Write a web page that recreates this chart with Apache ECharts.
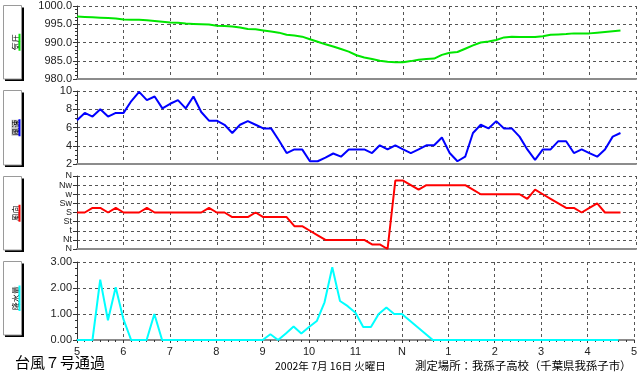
<!DOCTYPE html>
<html>
<head>
<meta charset="utf-8">
<script src="https://cdn.jsdelivr.net/npm/echarts@6/dist/echarts.min.js"></script>
<style>
  html, body { margin: 0; padding: 0; background: #fff; }
  #chart { width: 640px; height: 376px; }
</style>
</head>
<body>
<div id="chart"></div>
<script>
// 10-minute readings from 5:00 to 16:40
const startHour = 5;
const stepHour = 1 / 6;

const pressure = [
  997.1, 997.0, 996.9, 996.8, 996.7, 996.6, 996.3, 996.2, 996.2, 996.1,
  995.9, 995.7, 995.5, 995.4, 995.2, 995.1, 995.0, 994.9, 994.6, 994.5,
  994.4, 994.1, 993.7, 993.6, 993.3, 993.0, 992.7, 992.1, 991.9, 991.6,
  990.9, 990.2, 989.5, 988.9, 988.2, 987.5, 986.5, 985.9, 985.5, 985.0,
  984.7, 984.6, 984.6, 984.9, 985.3, 985.5, 985.6, 986.6, 987.2, 987.4,
  988.3, 989.2, 990.0, 990.3, 990.7, 991.4, 991.6, 991.5, 991.5, 991.5,
  991.7, 992.1, 992.2, 992.3, 992.5, 992.5, 992.5, 992.7, 992.9, 993.1,
  993.3
];

const windSpeed = [
  6.8, 7.6, 7.2, 8.0, 7.2, 7.6, 7.6, 8.9, 9.9, 9.0,
  9.4, 8.1, 8.6, 9.0, 8.1, 9.4, 7.7, 6.75, 6.75, 6.3,
  5.4, 6.3, 6.7, 6.3, 5.9, 5.9, 4.6, 3.2, 3.6, 3.6,
  2.3, 2.3, 2.7, 3.15, 2.8, 3.6, 3.6, 3.6, 3.2, 4.05,
  3.6, 4.05, 3.6, 3.2, 3.6, 4.05, 4.05, 4.9, 3.2, 2.3,
  2.8, 5.4, 6.3, 5.9, 6.7, 5.9, 5.9, 5.0, 3.6, 2.45,
  3.6, 3.6, 4.5, 4.5, 3.2, 3.6, 3.2, 2.8, 3.6, 5.0,
  5.4
];

// 0 = N (bottom) ... 8 = N (top), half steps = 16-point compass
const windDir = [
  4, 4, 4.5, 4.5, 4, 4.5, 4, 4, 4, 4.5,
  4, 4, 4, 4, 4, 4, 4, 4.5, 4, 4,
  3.5, 3.5, 3.5, 4, 3.5, 3.5, 3.5, 3.5, 2.5, 2.5,
  2, 1.5, 1, 1, 1, 1, 1, 1, 0.5, 0.5,
  0, 7.5, 7.5, 7, 6.5, 7, 7, 7, 7, 7,
  7, 6.5, 6, 6, 6, 6, 6, 6, 5.5, 6.5,
  6, 5.5, 5, 4.5, 4.5, 4, 4.5, 5, 4, 4,
  4
];

const rain = [
  0, 0, 0, 2.32, 0.76, 2.03, 0.8, 0, 0, 0,
  1.0, 0, 0, 0, 0, 0, 0, 0, 0, 0,
  0, 0, 0, 0, 0, 0.22, 0, 0.25, 0.52, 0.25,
  0.5, 0.73, 1.45, 2.8, 1.5, 1.3, 1.05, 0.5, 0.5, 1.0,
  1.25, 1.0, 1.0, 0.75, 0.5, 0.25, 0, 0, 0, 0,
  0, 0, 0, 0, 0, 0, 0, 0, 0, 0,
  0, 0, 0, 0, 0, 0, 0, 0, 0, 0,
  0
];

const dirLabels = ['N', 'Nt', 't', 'St', 'S', 'Sw', 'w', 'Nw', 'N'];
const panelTitles = ['気圧', '風速', '風向', '降水量'];
const panelColors = ['#00e600', '#0000ff', '#ff0000', '#00ffff'];

const toPoints = arr => arr.map((v, i) => [startHour + i * stepHour, v]);
const hourLabel = v => (v === 12 ? 'N' : String(v > 12 ? v - 12 : v));

const FONT = 'Liberation Sans';
const grids = [
  { left: 77, right: 4, top: 6, height: 73 },
  { left: 77, right: 4, top: 91, height: 73 },
  { left: 77, right: 4, top: 176, height: 73 },
  { left: 77, right: 4, top: 262, height: 78 },
];

const dashed = { show: true, lineStyle: { color: '#555', type: [3, 3], width: 1 } };
const labelCommon = {
  color: '#222',
  fontSize: 11,
  fontFamily: FONT,
  showMinLabel: true,
  showMaxLabel: true,
  hideOverlap: false,
};

const xAxes = grids.map((g, i) => ({
  gridIndex: i,
  type: 'value',
  min: 5,
  max: 17,
  interval: 1,
  axisLine: { show: true, lineStyle: { color: '#8c8c8c', width: 2 } },
  axisTick: { show: i === 3, length: 3, lineStyle: { color: '#333' } },
  minorTick: { show: i === 3, splitNumber: 6, length: 2, lineStyle: { color: '#333' } },
  axisLabel: { ...labelCommon, show: i === 3, margin: 6, formatter: hourLabel },
  splitLine: dashed,
}));

const yBase = {
  type: 'value',
  axisLine: { show: true, lineStyle: { color: '#333', width: 1 } },
  axisTick: { show: true, length: 4, lineStyle: { color: '#333' } },
  axisLabel: { ...labelCommon, margin: 5 },
  splitLine: dashed,
};

const yAxes = [
  { ...yBase, gridIndex: 0, min: 980, max: 1000, interval: 5,
    minorTick: { show: true, splitNumber: 5, length: 2, lineStyle: { color: '#333' } },
    axisLabel: { ...yBase.axisLabel, formatter: v => v.toFixed(1) } },
  { ...yBase, gridIndex: 1, min: 2, max: 10, interval: 2,
    minorTick: { show: true, splitNumber: 4, length: 2, lineStyle: { color: '#333' } } },
  { ...yBase, gridIndex: 2, min: 0, max: 8, interval: 1,
    axisLabel: { ...yBase.axisLabel, fontSize: 9, lineHeight: 8, formatter: v => dirLabels[v] } },
  { ...yBase, gridIndex: 3, min: 0, max: 3, interval: 1,
    minorTick: { show: true, splitNumber: 4, length: 2, lineStyle: { color: '#333' } },
    axisLabel: { ...yBase.axisLabel, formatter: v => v.toFixed(2) } },
];

const seriesData = [pressure, windSpeed, windDir, rain];
const series = seriesData.map((arr, i) => ({
  type: 'line',
  xAxisIndex: i,
  yAxisIndex: i,
  data: toPoints(arr),
  showSymbol: false,
  lineStyle: { color: panelColors[i], width: 2 },
  z: 3,
}));

// side label boxes (rotated text with coloured underline)
const boxes = [
  { top: 5.5, bottom: 79 },
  { top: 90.5, bottom: 165 },
  { top: 176.5, bottom: 250 },
  { top: 261.5, bottom: 335 },
];
const graphic = [];
boxes.forEach((b, i) => {
  const h = b.bottom - b.top;
  const cy = (b.top + b.bottom) / 2;
  const textLen = panelTitles[i].length * 8.5;
  graphic.push({
    type: 'rect', shape: { x: 5, y: b.top + 2, width: 19, height: h },
    style: { fill: '#000' }, silent: true,
  });
  graphic.push({
    type: 'rect', shape: { x: 3.5, y: b.top, width: 18, height: h },
    style: { fill: '#fff', stroke: '#9a9a9a', lineWidth: 1 }, silent: true,
  });
  graphic.push({
    type: 'text', x: 15.5, y: cy, rotation: Math.PI / 2,
    style: {
      text: panelTitles[i],
      fontSize: 8,
      fontFamily: 'Noto Sans CJK JP',
      fill: '#000',
      align: 'center',
      verticalAlign: 'middle',
      backgroundColor: i === 1 ? '#c4c4c4' : null,
    },
    silent: true,
  });
  graphic.push({
    type: 'line', shape: { x1: 19.5, y1: cy - textLen / 2, x2: 19.5, y2: cy + textLen / 2 },
    style: { stroke: panelColors[i], lineWidth: 2 }, silent: true,
  });
});

graphic.push(
  { type: 'text', left: 15, top: 355,
    style: { text: '台風７号通過', fontSize: 15, fontFamily: 'Noto Sans CJK JP', fill: '#000' } },
  { type: 'text', left: 275, top: 361,
    style: { text: '2002年 7月 16日 火曜日', fontSize: 10.5, fontFamily: 'Noto Sans CJK JP', fill: '#000' } },
  { type: 'text', left: 415, top: 360,
    style: { text: '測定場所：我孫子高校（千葉県我孫子市）', fontSize: 11.4, fontFamily: 'Noto Sans CJK JP', fill: '#000' } }
);

const chart = echarts.init(document.getElementById('chart'), null, { renderer: 'canvas' });
chart.setOption({
  animation: false,
  backgroundColor: '#fff',
  grid: grids,
  xAxis: xAxes,
  yAxis: yAxes,
  series,
  graphic,
});
</script>
</body>
</html>
